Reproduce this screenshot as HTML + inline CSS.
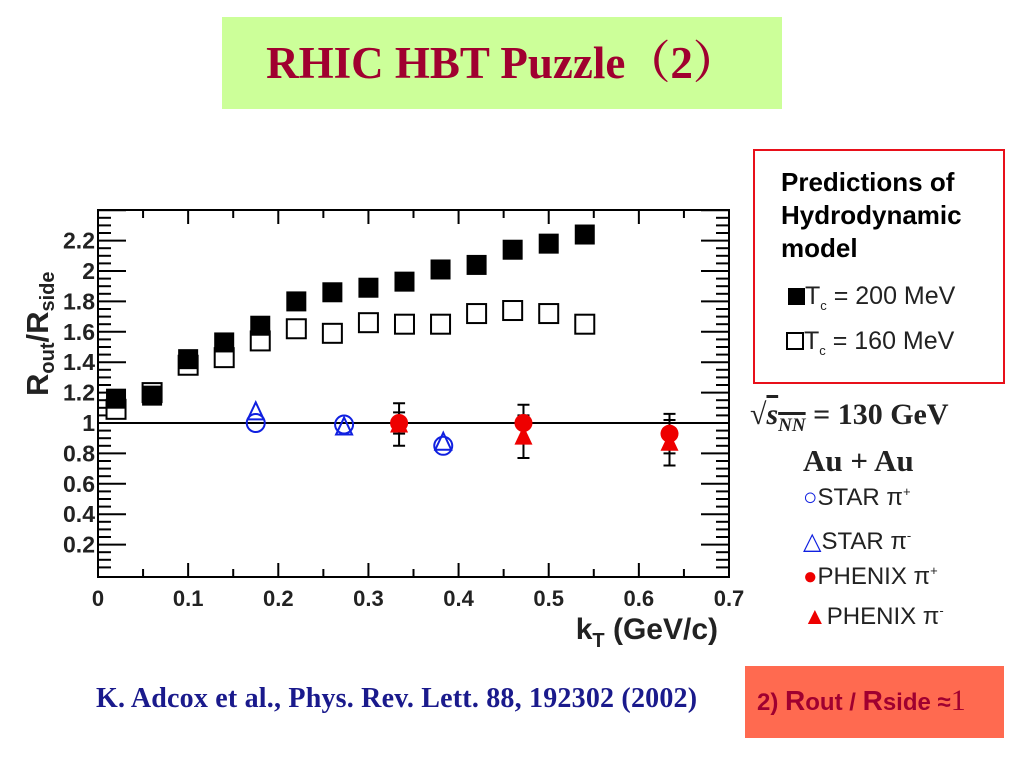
<!DOCTYPE html>
<html><head><meta charset="utf-8"><style>
body{margin:0;width:1024px;height:768px;background:#fff;overflow:hidden;position:relative;font-family:"Liberation Sans",sans-serif}
.abs{position:absolute;white-space:nowrap}
</style></head><body>
<div class="abs" style="left:222px;top:17px;width:560px;height:92px;background:#ccff99;"></div>
<div class="abs" style="left:222px;top:17px;width:560px;height:92px;line-height:92px;text-align:center;font-family:'Liberation Serif','Noto Serif CJK SC',serif;font-weight:bold;font-size:45px;color:#a00030;">RHIC HBT Puzzle（2）</div>
<svg id="chart" class="abs" style="left:0;top:0" width="1024" height="768"></svg>
<div class="abs" style="left:753px;top:149px;width:248px;height:231px;border:2px solid #e8101a;"></div>
<div class="abs" style="left:781px;top:166px;font-weight:bold;font-size:26px;line-height:33px;color:#000;">Predictions of<br>Hydrodynamic<br>model</div>
<div class="abs" style="left:788px;top:282px;font-size:25px;color:#222;"><span style="display:inline-block;width:17px;height:17px;background:#000;vertical-align:-1px"></span>T<sub style="font-size:13px">c</sub> = 200 MeV</div>
<div class="abs" style="left:786px;top:327px;font-size:25px;color:#222;"><span style="display:inline-block;width:18px;height:18px;border:2px solid #000;box-sizing:border-box;vertical-align:-1px"></span>T<sub style="font-size:13px">c</sub> = 160 MeV</div>
<div class="abs" style="left:750px;top:398px;font-family:'Liberation Serif',serif;font-weight:bold;font-size:30px;color:#222;">√<span style="text-decoration:overline;font-style:italic">s<sub style="font-size:19px">NN</sub></span> = 130 GeV</div>
<div class="abs" style="left:803px;top:443px;font-family:'Liberation Serif',serif;font-weight:bold;font-size:31px;color:#222;">Au + Au</div>
<div class="abs" style="left:803px;top:484px;font-size:24px;color:#222;"><span style="color:#1020e0">○</span>STAR π<sup style="font-size:13px">+</sup></div>
<div class="abs" style="left:803px;top:527px;font-size:24px;color:#222;"><span style="color:#1020e0">△</span>STAR π<sup style="font-size:13px">-</sup></div>
<div class="abs" style="left:803px;top:563px;font-size:24px;color:#222;"><span style="color:#e00">●</span>PHENIX π<sup style="font-size:13px">+</sup></div>
<div class="abs" style="left:803px;top:603px;font-size:24px;color:#222;"><span style="color:#e00">▲</span>PHENIX π<sup style="font-size:13px">-</sup></div>
<div class="abs" style="left:96px;top:683px;font-family:'Liberation Serif',serif;font-weight:bold;font-size:28px;color:#1a1a8c;letter-spacing:0.2px">K. Adcox et al., Phys. Rev. Lett. 88, 192302 (2002)</div>
<div class="abs" style="left:745px;top:666px;width:259px;height:72px;background:#ff6a50;"></div>
<div class="abs" style="left:757px;top:684px;font-weight:bold;font-size:24px;color:#a00030;">2) <span style="font-size:28px">R</span>out / <span style="font-size:28px">R</span>side ≈<span style="font-family:'Liberation Serif',serif;font-weight:normal;font-size:30px">1</span></div>
<script>
const xTicks=[0,0.1,0.2,0.3,0.4,0.5,0.6,0.7];
const yTicks=[0.2,0.4,0.6,0.8,1,1.2,1.4,1.6,1.8,2,2.2];
const hydroX=[0.02,0.06,0.10,0.14,0.18,0.22,0.26,0.30,0.34,0.38,0.42,0.46,0.50,0.54];
const tc200=[1.16,1.18,1.42,1.53,1.64,1.80,1.86,1.89,1.93,2.01,2.04,2.14,2.18,2.24];
const tc160=[1.09,1.20,1.38,1.43,1.54,1.62,1.59,1.66,1.65,1.65,1.72,1.74,1.72,1.65];
const starX=[0.175,0.273,0.383];
const starPlus=[1.0,0.99,0.85];
const starMinus=[1.07,0.97,0.87];
const phenixX=[0.334,0.472,0.634];
const phenixPlus=[1.0,1.0,0.93];
const phenixPlusErr=[0.07,0.12,0.13];
const phenixMinus=[0.99,0.91,0.87];
const phenixMinusErr=[0.14,0.14,0.15];
const X0=98,X1=729,Y0=577,Y1=210;
const sx=v=>X0+v*(X1-X0)/0.7;
const sy=v=>575-v*152;
const svg=document.getElementById('chart');
const NS='http://www.w3.org/2000/svg';
function mk(tag,attrs,parent){const e=document.createElementNS(NS,tag);for(const k in attrs)e.setAttribute(k,attrs[k]);(parent||svg).appendChild(e);return e;}
let e;
e=mk('rect',{x:X0,y:Y1,width:X1-X0,height:Y0-Y1,fill:'none',stroke:'#000','stroke-width':2});


for(let v=0.05;v<2.43;v+=0.05){const big=Math.abs(v/0.2-Math.round(v/0.2))<0.01;
 e=mk('line',{x1:X0,x2:X0+(big?28:13),y1:sy(v),y2:sy(v),stroke:'#000','stroke-width':2});
 
 
 e=mk('line',{x1:X1,x2:X1-(big?28:13),y1:sy(v),y2:sy(v),stroke:'#000','stroke-width':2});
 
 }
for(let v=0.05;v<0.7;v+=0.05){const big=Math.abs(v*10-Math.round(v*10))<0.01;
 e=mk('line',{x1:sx(v),x2:sx(v),y1:Y0,y2:Y0-(big?14:8),stroke:'#000','stroke-width':2});
 
 
 e=mk('line',{x1:sx(v),x2:sx(v),y1:Y1,y2:Y1+(big?14:8),stroke:'#000','stroke-width':2});
 
 }
yTicks.forEach(v=>{e=mk('text',{x:X0-3,y:sy(v)+8,'text-anchor':'end','font-size':23,'font-weight':'bold','font-family':'Liberation Sans,sans-serif',fill:'#222'});e.textContent=String(v);
 
 });
xTicks.forEach(v=>{e=mk('text',{x:sx(v),y:Y0+29,'text-anchor':'middle','font-size':22,'font-weight':'bold','font-family':'Liberation Sans,sans-serif',fill:'#222'});e.textContent=String(v);
 
 });
e=mk('text',{x:718,y:639,'text-anchor':'end','font-size':30,'font-weight':'bold','font-family':'Liberation Sans,sans-serif',fill:'#222'});
e.innerHTML='k<tspan font-size="20" dy="8">T</tspan><tspan dy="-8"> (GeV/c)</tspan>';


e=mk('text',{x:0,y:0,transform:'translate(48,396) rotate(-90)','font-size':31,'font-weight':'bold','font-family':'Liberation Sans,sans-serif',fill:'#222'});
e.innerHTML='R<tspan font-size="20" dy="6">out</tspan><tspan dy="-6">/R</tspan><tspan font-size="20" dy="6">side</tspan>';


e=mk('line',{x1:X0,x2:X1,y1:sy(1),y2:sy(1),stroke:'#000','stroke-width':2});


hydroX.forEach((x,i)=>{
 e=mk('rect',{x:sx(x)-9.5,y:sy(tc160[i])-9.5,width:19,height:19,fill:'#fff',stroke:'#000','stroke-width':2});
 
 
 e=mk('rect',{x:sx(x)-10,y:sy(tc200[i])-10,width:20,height:20,fill:'#000'});
 
 });
starX.forEach((x,i)=>{
 e=mk('circle',{cx:sx(x),cy:sy(starPlus[i]),r:9,fill:'none',stroke:'#1020e0','stroke-width':2});
 
 
 const cx=sx(x),cy=sy(starMinus[i]);
 e=mk('polygon',{points:`${cx},${cy-10} ${cx-8},${cy+7} ${cx+8},${cy+7}`,fill:'none',stroke:'#1020e0','stroke-width':2});
 
 });
function err(x,v,d){const cx=sx(x);
 e=mk('path',{d:`M${cx},${sy(v+d)}V${sy(v-d)}M${cx-6},${sy(v+d)}h12M${cx-6},${sy(v-d)}h12`,stroke:'#000','stroke-width':2,fill:'none'});
 
 }
phenixX.forEach((x,i)=>{
 err(x,phenixPlus[i],phenixPlusErr[i]);err(x,phenixMinus[i],phenixMinusErr[i]);
 const cx=sx(x),cy=sy(phenixMinus[i]);
 e=mk('polygon',{points:`${cx},${cy-11} ${cx-9},${cy+8} ${cx+9},${cy+8}`,fill:'#e00'});
 
 
 e=mk('circle',{cx:sx(x),cy:sy(phenixPlus[i]),r:9,fill:'#e00'});
 
 });
</script>
</body></html>
